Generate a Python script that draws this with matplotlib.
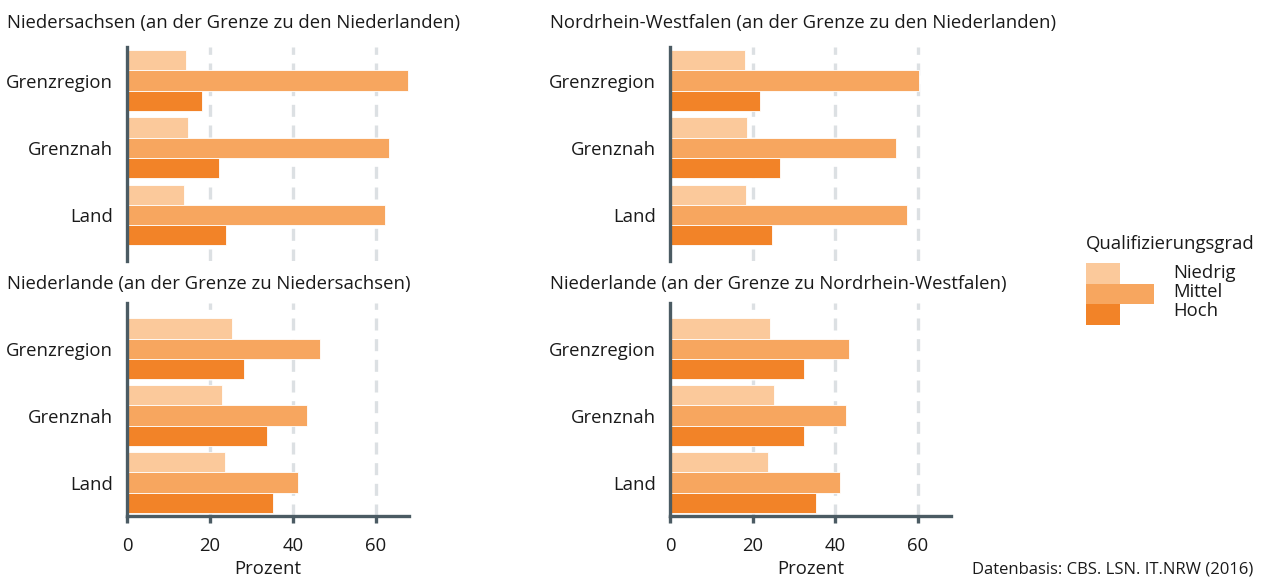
import matplotlib.pyplot as plt
from matplotlib.patches import Rectangle
import numpy as np

plt.rcParams['font.family'] = ['Open Sans', 'DejaVu Sans']

regions = ['Grenzregion', 'Grenznah', 'Land']
levels = ['Niedrig', 'Mittel', 'Hoch']

# Anteile in Prozent je Region: Niedrig, Mittel, Hoch
nds_niedrig = [14.2, 14.6, 13.8]
nds_mittel = [67.8, 63.1, 62.2]
nds_hoch = [18.0, 22.2, 23.9]

nrw_niedrig = [18.1, 18.6, 18.3]
nrw_mittel = [60.3, 54.8, 57.3]
nrw_hoch = [21.7, 26.7, 24.6]

nl_nds_niedrig = [25.2, 22.8, 23.6]
nl_nds_mittel = [46.5, 43.5, 41.2]
nl_nds_hoch = [28.2, 33.7, 35.3]

nl_nrw_niedrig = [24.3, 25.1, 23.6]
nl_nrw_mittel = [43.3, 42.7, 41.2]
nl_nrw_hoch = [32.5, 32.5, 35.3]

titles = ['Niedersachsen (an der Grenze zu den Niederlanden)',
          'Nordrhein-Westfalen (an der Grenze zu den Niederlanden)',
          'Niederlande (an der Grenze zu Niedersachsen)',
          'Niederlande (an der Grenze zu Nordrhein-Westfalen)']

xticks = [0, 20, 40, 60]

colors = ['#fbc99b', '#f7a65f', '#f28328']
spine_col = '#4b5b63'
grid_col = '#dce0e3'
text_col = '#1a1a1a'
fs = 13.3

W, H = 1261, 577
fig = plt.figure(figsize=(W / 100, H / 100), dpi=100)

def px_axes(x0, x1, y0, y1):
    return fig.add_axes([x0 / W, 1 - y1 / H, (x1 - x0) / W, (y1 - y0) / H])

panels = [
    (px_axes(127, 409, 47, 261), (nds_niedrig, nds_mittel, nds_hoch), False, (2.69, -0.5)),
    (px_axes(670, 951, 47, 261), (nrw_niedrig, nrw_mittel, nrw_hoch), False, (2.69, -0.5)),
    (px_axes(127, 409, 303, 516), (nl_nds_niedrig, nl_nds_mittel, nl_nds_hoch), True, (2.5, -0.68)),
    (px_axes(670, 951, 303, 516), (nl_nrw_niedrig, nl_nrw_mittel, nl_nrw_hoch), True, (2.5, -0.68)),
]

y = np.arange(len(regions))
bh = 0.3
for ax, series, bottom, ylim in panels:
    for k, vals in enumerate(series):
        ax.barh(y + (k - 1) * bh, vals, height=bh, color=colors[k],
                edgecolor='white', linewidth=0.6, zorder=2)
    for xv in xticks[1:]:
        ax.axvline(xv, color=grid_col, lw=2.4, ls=(0, (3.6, 2.6)), zorder=1)
    ax.set_xlim(0, 68)
    ax.set_ylim(*ylim)
    ax.set_yticks(y)
    ax.set_yticklabels(regions, fontsize=fs, color=text_col)
    ax.tick_params(axis='y', length=0, pad=10)
    for s in ['top', 'right']:
        ax.spines[s].set_visible(False)
    ax.spines['left'].set_color(spine_col)
    ax.spines['left'].set_linewidth(2.4)
    if bottom:
        ax.spines['bottom'].set_color(spine_col)
        ax.spines['bottom'].set_linewidth(2.4)
        ax.set_xticks(xticks)
        ax.tick_params(axis='x', length=5, width=2.4, color=spine_col,
                       labelsize=fs, labelcolor=text_col, pad=10)
        ax.set_xlabel('Prozent', fontsize=fs, color=text_col, labelpad=4)
    else:
        ax.spines['bottom'].set_visible(False)
        ax.set_xticks([])

# Panel-Überschriften
title_pos = [(7, 23), (550, 23), (7, 284), (550, 284)]
for (tx, ty), t in zip(title_pos, titles):
    fig.text(tx / W, 1 - ty / H, t, fontsize=fs, color=text_col,
             ha='left', va='center')

# Legende
fig.text(1086 / W, 1 - 244 / H, 'Qualifizierungsgrad', fontsize=fs,
         color=text_col, ha='left', va='center')
patch_boxes = [(1086, 1120, 263, 283.5), (1086, 1154, 283.5, 304), (1086, 1120, 304, 325)]
label_y = [273, 292, 311]
for (x0, x1, y0, y1), c, lab, ly in zip(patch_boxes, colors, levels, label_y):
    fig.add_artist(Rectangle((x0 / W, 1 - y1 / H), (x1 - x0) / W, (y1 - y0) / H,
                             transform=fig.transFigure, color=c, lw=0))
    fig.text(1173 / W, 1 - ly / H, lab, fontsize=fs, color=text_col,
             ha='left', va='center')

fig.text(1253 / W, 1 - 569 / H, 'Datenbasis: CBS. LSN. IT.NRW (2016)',
         fontsize=12, color=text_col, ha='right', va='center')

fig.savefig('out.png', dpi=100)
